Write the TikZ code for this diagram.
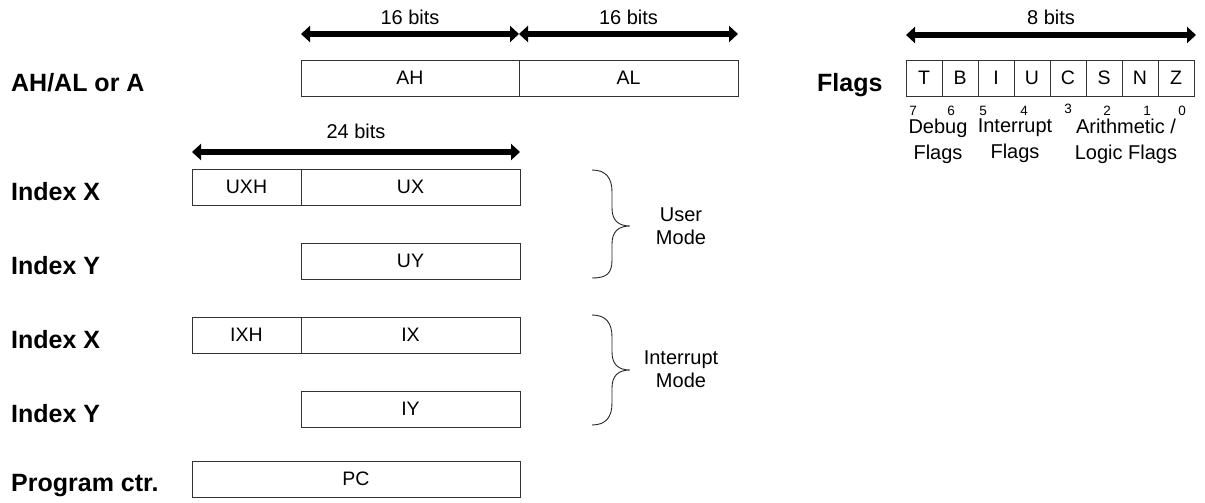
\documentclass[tikz,border=0pt]{standalone}
\usepackage{fontspec}
\setmainfont{Liberation Sans}
\usetikzlibrary{arrows.meta}
\tikzset{
  x=1pt, y=1pt,
  reg/.style={draw=black!80, line width=0.9pt, inner sep=0pt, outer sep=0pt, anchor=north west, minimum height=36pt, font=\fontsize{19.5}{22}\selectfont},
  lbl/.style={anchor=base west, inner sep=0pt, font=\fontsize{25}{28}\bfseries\selectfont},
  width/.style={line width=6pt, {Triangle[length=9pt,width=16pt]}-{Triangle[length=9pt,width=16pt]}},
  bitstxt/.style={anchor=base, inner sep=0pt, font=\fontsize{20}{24}\selectfont},
  bitnum/.style={anchor=base, inner sep=0pt, font=\fontsize{13.5}{15}\selectfont},
  grp/.style={anchor=north, inner sep=0pt, align=center, font=\fontsize{20}{26}\selectfont},
  mode/.style={anchor=north, inner sep=0pt, align=center, font=\fontsize{20}{23}\selectfont},
  brace/.style={draw=black!85, line width=0.9pt}
}
\begin{document}
\begin{tikzpicture}
\useasboundingbox (0,0) rectangle (1205,-503);

% bit-width arrows
\coordinate (a16l) at (301,-34);
\coordinate (a16m) at (519,-34);
\coordinate (a16r) at (738,-34);
\draw[width] (a16l) -- (a16m);
\draw[width] (a16m) -- (a16r);
\node[bitstxt] (t16a) at (410,-25) {16 bits};
\node[bitstxt] (t16b) at (628.5,-25) {16 bits};

\coordinate (a24l) at (192,-152);
\coordinate (a24r) at (520,-152);
\draw[width] (a24l) -- (a24r);
\node[bitstxt] (t24) at (356,-138) {24 bits};

\coordinate (a8l) at (906,-35);
\coordinate (a8r) at (1196,-35);
\draw[width] (a8l) -- (a8r);
\node[bitstxt] (t8) at (1051,-25) {8 bits};

% left labels
\node[lbl] (lA)  at (11,-92)  {AH/AL or A};
\node[lbl] (lX1) at (11,-200) {Index X};
\node[lbl] (lY1) at (11,-274) {Index Y};
\node[lbl] (lX2) at (11,-348) {Index X};
\node[lbl] (lY2) at (11,-422) {Index Y};
\node[lbl] (lPC) at (11,-491) {Program ctr.};
\node[lbl] (lF)  at (817,-92) {Flags};

% registers
\node[reg, minimum width=218pt] (AH) at (301,-60) {AH};
\node[reg, minimum width=219pt] (AL) at (519,-60) {AL};

\node[reg, minimum width=109pt] (UXH) at (192,-169) {UXH};
\node[reg, minimum width=219pt] (UX)  at (301,-169) {UX};
\node[reg, minimum width=219pt] (UY)  at (301,-243) {UY};

\node[reg, minimum width=109pt] (IXH) at (192,-317) {IXH};
\node[reg, minimum width=219pt] (IX)  at (301,-317) {IX};
\node[reg, minimum width=219pt] (IY)  at (301,-391) {IY};

\node[reg, minimum width=328pt] (PC) at (192,-461) {PC};

% flags
\foreach \n [count=\i from 0] in {T,B,I,U,C,S,N,Z}{
  \node[reg, minimum width=36pt] (f\i) at (906+36*\i,-60) {\n};
}
\node[bitnum] (b7) at (913,-115) {7};
\node[bitnum] (b6) at (951,-115) {6};
\node[bitnum] (b5) at (983,-115) {5};
\node[bitnum] (b4) at (1024,-115) {4};
\node[bitnum] (b3) at (1068,-113.5) {3};
\node[bitnum] (b2) at (1107,-115) {2};
\node[bitnum] (b1) at (1147,-115) {1};
\node[bitnum] (b0) at (1182,-115) {0};

\node[grp] (gD) at (938,-118.5) {Debug\\Flags};
\node[grp] (gI) at (1015,-118.5) {Interrupt\\Flags};
\node[grp] (gA) at (1126,-118.5) {Arithmetic /\\Logic Flags};

% braces
\draw[brace] (592,-170) .. controls (606,-170) and (612,-178) .. (612,-192)
  -- (612,-208) .. controls (612,-220) and (618,-226) .. (630,-226)
  .. controls (618,-226) and (612,-232) .. (612,-244)
  -- (612,-260) .. controls (612,-274) and (606,-278) .. (592,-278);
\node[mode] (mU) at (681,-207.5) {User\\Mode};

\draw[brace] (592,-315) .. controls (606,-315) and (612,-323) .. (612,-337)
  -- (612,-352) .. controls (612,-364) and (618,-370) .. (630,-370)
  .. controls (618,-370) and (612,-376) .. (612,-388)
  -- (612,-403) .. controls (612,-417) and (606,-425) .. (592,-425);
\node[mode] (mI) at (681,-350.5) {Interrupt\\Mode};
\end{tikzpicture}
\end{document}
